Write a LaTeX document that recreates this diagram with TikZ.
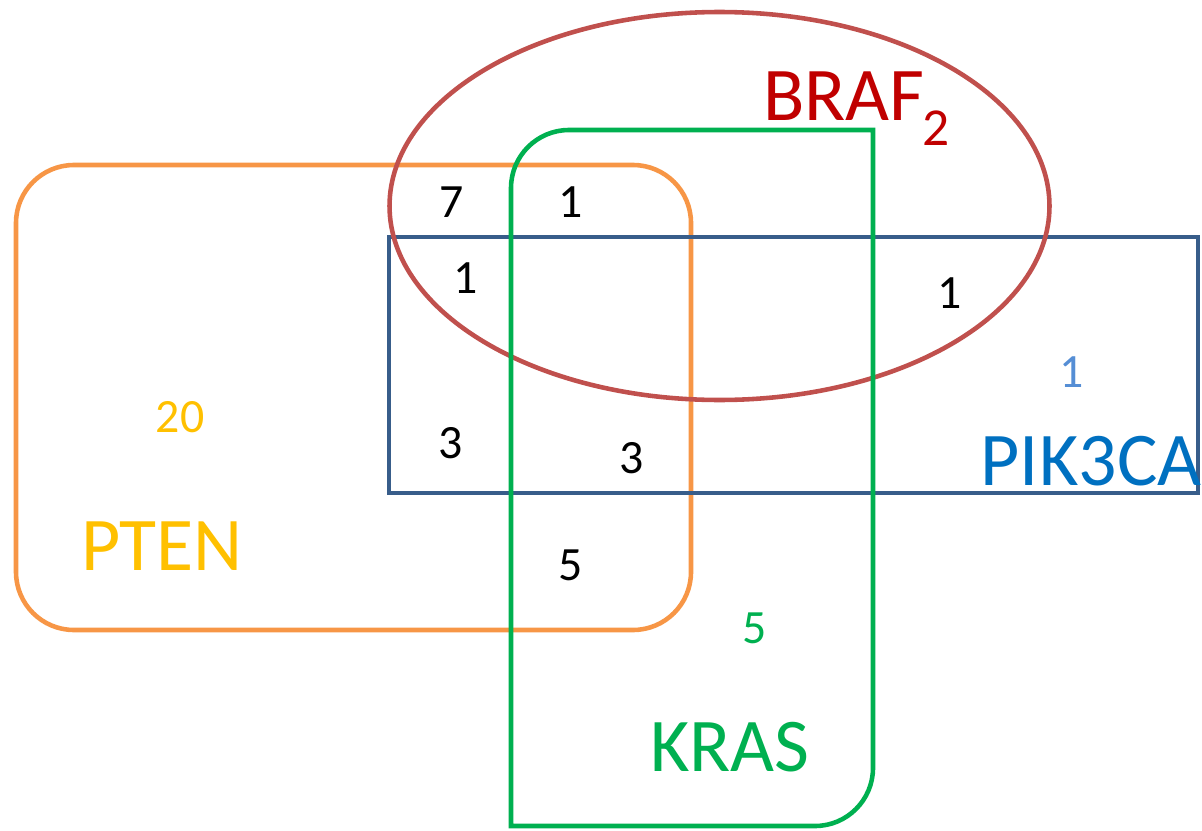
\documentclass[tikz,border=0pt]{standalone}
\usepackage{fontspec}
\setmainfont{Carlito}
\definecolor{cOrange}{HTML}{F79646}
\definecolor{cRed}{HTML}{C0504D}
\definecolor{cGreen}{HTML}{00B050}
\definecolor{cBlueLine}{HTML}{385D8A}
\definecolor{tRed}{HTML}{C00000}
\definecolor{tYellow}{HTML}{FFC000}
\definecolor{tBlue}{HTML}{0070C0}
\definecolor{tLightBlue}{HTML}{558ED5}
\begin{document}
\begin{tikzpicture}[x=0.05cm,y=-0.05cm,
  setline/.style={line width=6.5pt},
  num/.style={inner sep=0pt,font=\fontsize{68}{72}\selectfont},
  lbl/.style={inner sep=0pt,font=\fontsize{108}{116}\selectfont}]
\useasboundingbox (0,0) rectangle (1202,830);
% PTEN
\draw[setline,cOrange,rounded corners=2.9cm] (16,165) rectangle (691,630);
% PIK3CA
\draw[setline,cBlueLine] (389,237) rectangle (1198,493);
% BRAF
\draw[setline,cRed] (719.5,206) ellipse [x radius=16.5cm, y radius=9.7cm];
% KRAS
\draw[setline,cGreen] (511,826) -- (511,188) .. controls (511,156) and (537,130) .. (569,130)
  -- (873,130) -- (873,768) .. controls (873,800) and (847,826) .. (815,826) -- cycle;
% numbers
\node[num] (n7) at (452,202) {7};
\node[num] (n1a) at (571,202) {1};
\node[num] (n1b) at (466,278) {1};
\node[num] (n1c) at (950,293) {1};
\node[num,text=tLightBlue] (n1d) at (1072,372) {1};
\node[num,text=tYellow] (n20) at (180,417) {20};
\node[num] (n3a) at (451,443) {3};
\node[num] (n3b) at (632,458) {3};
\node[num] (n5a) at (571,565) {5};
\node[num,text=cGreen] (n5b) at (755,628) {5};
% labels
\node[lbl,text=tYellow] (pten) at (162,546) {PTEN};
\node[lbl,text=tBlue] (pik) at (1091,461) {PIK3CA};
\node[lbl,text=cGreen] (kras) at (730,747) {KRAS};
\node[lbl,text=tRed] (braf) at (844,96) {BRAF};
\node[inner sep=0pt,font=\fontsize{76}{80}\selectfont,text=tRed] (braf2) at (936,128) {2};
\end{tikzpicture}
\end{document}
